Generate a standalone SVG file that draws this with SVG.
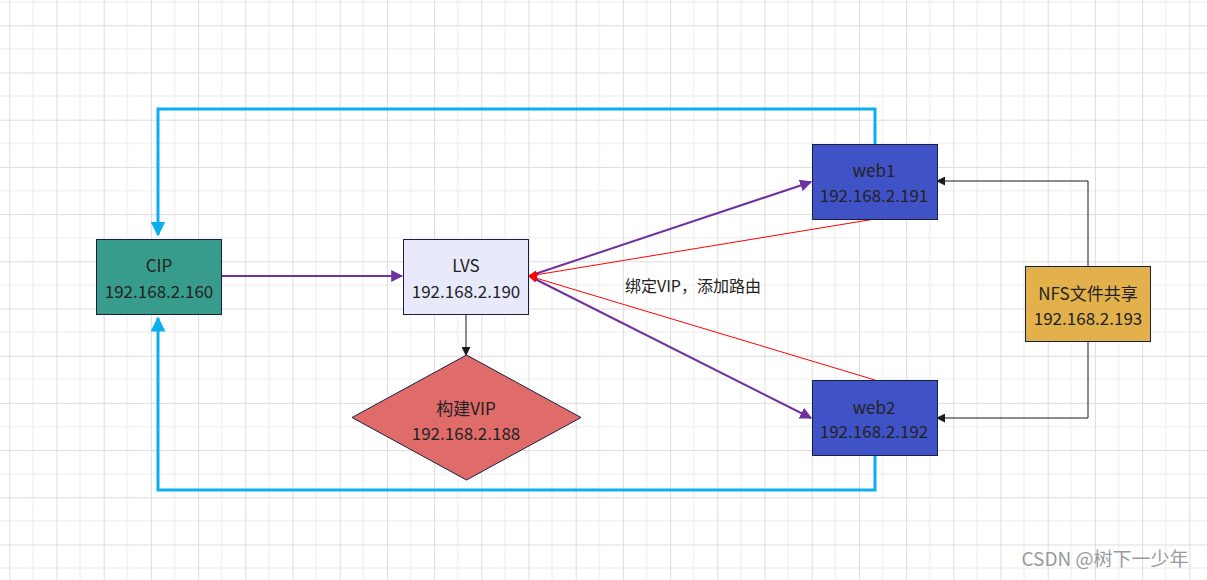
<svg xmlns="http://www.w3.org/2000/svg" width="1207" height="580" viewBox="0 0 1207 580">
<style>
.t{font-family:"Noto Sans CJK SC","Noto Sans",sans-serif;font-size:17px;fill:#222;text-anchor:middle}
.box{stroke:#1a1f40;stroke-width:1}
.blue{fill:none;stroke:#0aaff0;stroke-width:3}
.pur{fill:none;stroke:#7030a0;stroke-width:2}
.red{fill:none;stroke:#ff0000;stroke-width:1}
.blk{fill:none;stroke:#1a1a1a;stroke-width:1}
</style>
<defs>
<pattern id="grid" patternUnits="userSpaceOnUse" x="9.3" y="25.3" width="47.2" height="47.2">
<path d="M23.6 0V47.2M0 23.6H47.2" stroke="#ececec" stroke-width="1" fill="none"/>
<path d="M0.5 0V47.2M0 0.5H47.2" stroke="#dcdcdc" stroke-width="1" fill="none"/>
</pattern>
<marker id="mBlue" viewBox="0 0 10 10" refX="9" refY="5" markerWidth="5" markerHeight="5" orient="auto" markerUnits="strokeWidth"><path d="M0 0L10 5L0 10Z" fill="#0aaff0"/></marker>
<marker id="mPur" viewBox="0 0 10 10" refX="9" refY="5" markerWidth="6" markerHeight="6" orient="auto" markerUnits="strokeWidth"><path d="M0 0L10 5L0 10Z" fill="#7030a0"/></marker>
<marker id="mRed" viewBox="0 0 10 10" refX="9" refY="5" markerWidth="9" markerHeight="9" orient="auto" markerUnits="strokeWidth"><path d="M0 0L10 5L0 10Z" fill="#ff0000"/></marker>
<marker id="mBlk" viewBox="0 0 10 10" refX="9" refY="5" markerWidth="9" markerHeight="9" orient="auto" markerUnits="strokeWidth"><path d="M0 0L10 5L0 10Z" fill="#1a1a1a"/></marker>
</defs>
<rect width="1207" height="580" fill="#ffffff"/>
<rect width="1207" height="580" fill="url(#grid)"/>
<g id="connectors">
<path class="blue" d="M875 144V109H158V235" marker-end="url(#mBlue)"/>
<path class="blue" d="M875 455V490H158V318" marker-end="url(#mBlue)"/>
<path class="pur" d="M221 276H402" marker-end="url(#mPur)"/>
<path class="pur" d="M529 276L811 182" marker-end="url(#mPur)"/>
<path class="pur" d="M529 276L811 418" marker-end="url(#mPur)"/>
<path class="red" d="M875 219L529 276" marker-end="url(#mRed)"/>
<path class="red" d="M875 380L529 276" marker-end="url(#mRed)"/>
<path class="blk" d="M466 314V355" marker-end="url(#mBlk)"/>
<path class="blk" d="M1088 266V181H937" marker-end="url(#mBlk)"/>
<path class="blk" d="M1088 341V418H937" marker-end="url(#mBlk)"/>
</g>
<g id="cip"><rect class="box" x="96.5" y="239.5" width="125" height="75" fill="#389c8d"/><text class="t" x="159" y="272">CIP</text><text class="t" x="159" y="298">192.168.2.160</text></g>
<g id="lvs"><rect class="box" x="403.5" y="239.5" width="125" height="75" fill="#e8eafc"/><text class="t" x="466" y="272">LVS</text><text class="t" x="466" y="298">192.168.2.190</text></g>
<g id="vip"><path class="box" d="M466.5 355L581 417.5L466.5 480L352 417.5Z" fill="#e06c6a"/><text class="t" x="466" y="415">构建VIP</text><text class="t" x="466" y="440">192.168.2.188</text></g>
<g id="web1"><rect class="box" x="812.5" y="144.5" width="125" height="75" fill="#4053c6"/><text class="t" x="874" y="177">web1</text><text class="t" x="874" y="202">192.168.2.191</text></g>
<g id="web2"><rect class="box" x="812.5" y="380.5" width="125" height="75" fill="#4053c6"/><text class="t" x="874" y="414">web2</text><text class="t" x="874" y="438">192.168.2.192</text></g>
<g id="nfs"><rect class="box" x="1025.5" y="266.5" width="125" height="75" fill="#e2b14b"/><text class="t" x="1088" y="300">NFS文件共享</text><text class="t" x="1088" y="325">192.168.2.193</text></g>
<g id="label"><text x="693" y="292" style="font-family:'Noto Sans CJK SC',sans-serif;font-size:16px;fill:#222;text-anchor:middle">绑定VIP，添加路由</text></g>
<text x="1105" y="566" style="font-family:'Noto Sans CJK SC',sans-serif;font-size:19px;fill:#9a9a9a;text-anchor:middle">CSDN @树下一少年</text>
</svg>
